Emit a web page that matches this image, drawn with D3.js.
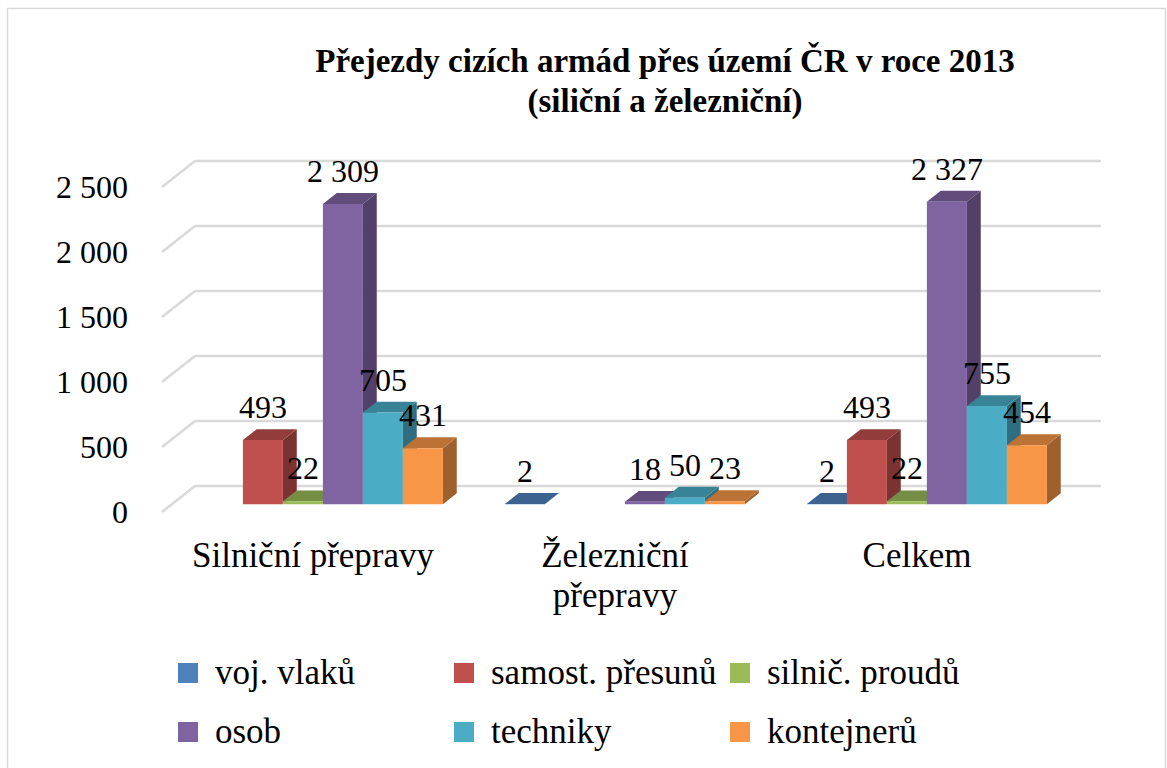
<!DOCTYPE html>
<html>
<head>
<meta charset="utf-8">
<script src="https://cdn.jsdelivr.net/npm/d3@7"></script>
<style>
  body { margin: 0; background: #fff; }
  text { font-family: "Liberation Serif", "DejaVu Serif", serif; fill: #000; }
</style>
</head>
<body>
<div id="chart"></div>
<script>
var categories = ["Silniční přepravy", "Železniční přepravy", "Celkem"];
var seriesNames = ["voj. vlaků", "samost. přesunů", "silnič. proudů", "osob", "techniky", "kontejnerů"];
var seriesColors = ["#4f81bd", "#c0504d", "#9bbb59", "#8064a2", "#4bacc6", "#f79646"];
// values per series, in the order of categories (null = no value)
var vojVlaku    = [null, 2, 2];
var samostPresunu = [493, null, 493];
var silnicProudu = [22, null, 22];
var osob        = [2309, 18, 2327];
var techniky    = [705, 50, 755];
var kontejneru  = [431, 23, 454];
var yTicks = [0, 500, 1000, 1500, 2000, 2500];

var seriesValues = [vojVlaku, samostPresunu, silnicProudu, osob, techniky, kontejneru];

var width = 1167, height = 768;
var DX = 33, DY = 26;          // depth of the 3D floor
var d0 = 0.3, d1 = 0.72;       // bar depth inside the floor

var svg = d3.select('#chart').append('svg')
    .attr('width', width)
    .attr('height', height);

svg.append('rect')
    .attr('x', 7.5).attr('y', 8.5)
    .attr('width', 1158).attr('height', 800)
    .attr('fill', 'none')
    .attr('stroke', '#d9d9d9')
    .attr('stroke-width', 1.5);

svg.append('text')
    .attr('x', 665).attr('y', 72)
    .attr('text-anchor', 'middle')
    .style('font-size', '33px').style('font-weight', 'bold')
    .text('Přejezdy cizích armád přes území ČR v roce 2013');
svg.append('text')
    .attr('x', 665).attr('y', 112)
    .attr('text-anchor', 'middle')
    .style('font-size', '33px').style('font-weight', 'bold')
    .text('(siliční a železniční)');

var x0 = d3.scaleBand().domain(categories).range([162, 1068]).padding(0);
var x1 = d3.scaleBand().domain(d3.range(seriesNames.length))
    .range([0, x0.bandwidth()]).paddingInner(0).paddingOuter(0.775);
var y = d3.scaleLinear().domain([0, 2500]).range([512, 187]);

var locale = d3.formatLocale({ decimal: ",", thousands: "\u00a0", grouping: [3], currency: ["", ""] });
var fmt = locale.format(",d");

function P(x, v, d) { return [x + d * DX, y(v) - d * DY]; }

// gridlines: back wall and left side wall
var grid = svg.append('g').attr('class', 'grid');
yTicks.forEach(function(t) {
    var a = P(x0.range()[0], t, 1), b = P(x0.range()[1], t, 1), c = P(x0.range()[0], t, 0);
    grid.append('line')
        .attr('x1', a[0]).attr('y1', a[1]).attr('x2', b[0]).attr('y2', b[1])
        .attr('stroke', '#d9d9d9').attr('stroke-width', 2.5);
    grid.append('line')
        .attr('x1', c[0]).attr('y1', c[1]).attr('x2', a[0]).attr('y2', a[1])
        .attr('stroke', '#d9d9d9').attr('stroke-width', 2.5);
});

// y axis labels
svg.append('g').selectAll('text')
    .data(yTicks)
    .enter().append('text')
    .attr('x', 128)
    .attr('y', function(d) { return y(d); })
    .attr('dy', '0.35em')
    .attr('text-anchor', 'end')
    .style('font-size', '32px')
    .text(function(d) { return fmt(d); });

// bars
var bars = [];
categories.forEach(function(cat, ci) {
    seriesValues.forEach(function(vals, si) {
        if (vals[ci] == null) return;
        bars.push({ cat: cat, s: si, v: vals[ci] });
    });
});

function shade(c, k) {
    var r = d3.rgb(c);
    return d3.rgb(r.r * k, r.g * k, r.b * k).toString();
}
function pts(arr) { return arr.map(function(p) { return p.join(','); }).join(' '); }

var barG = svg.append('g').selectAll('g')
    .data(bars)
    .enter().append('g');

barG.append('polygon')
    .attr('points', function(d) {
        var xr = x0(d.cat) + x1(d.s) + x1.bandwidth();
        return pts([P(xr, 0, d0), P(xr, d.v, d0), P(xr, d.v, d1), P(xr, 0, d1)]);
    })
    .attr('fill', function(d) { return shade(seriesColors[d.s], 0.64); });

barG.append('polygon')
    .attr('points', function(d) {
        var xl = x0(d.cat) + x1(d.s), xr = xl + x1.bandwidth();
        return pts([P(xl, d.v, d0), P(xr, d.v, d0), P(xr, d.v, d1), P(xl, d.v, d1)]);
    })
    .attr('fill', function(d) { return shade(seriesColors[d.s], 0.76); });

barG.append('polygon')
    .attr('points', function(d) {
        var xl = x0(d.cat) + x1(d.s), xr = xl + x1.bandwidth();
        return pts([P(xl, 0, d0), P(xr, 0, d0), P(xr, d.v, d0), P(xl, d.v, d0)]);
    })
    .attr('fill', function(d) { return seriesColors[d.s]; });

// data labels
svg.append('g').selectAll('text')
    .data(bars)
    .enter().append('text')
    .attr('x', function(d) { return x0(d.cat) + x1(d.s) + x1.bandwidth() / 2 + d0 * DX; })
    .attr('y', function(d) { return y(d.v) - d1 * DY - 11; })
    .attr('text-anchor', 'middle')
    .style('font-size', '32px')
    .text(function(d) { return fmt(d.v); });

// category labels (wrapped when too wide)
var catG = svg.append('g').selectAll('text')
    .data(categories)
    .enter().append('text')
    .attr('x', function(d) { return x0(d) + x0.bandwidth() / 2; })
    .attr('y', 567)
    .attr('text-anchor', 'middle')
    .style('font-size', '35px')
    .text(function(d) { return d; });

catG.each(function(d) {
    var t = d3.select(this);
    if (this.getComputedTextLength() > 260) {
        var words = d.split(' ');
        var cx = t.attr('x');
        t.text(null);
        words.forEach(function(w, i) {
            t.append('tspan').attr('x', cx).attr('dy', i ? 40 : 0).text(w);
        });
    }
});

// legend
var legCols = [178, 454, 730];
var legRows = [673, 732];
var leg = svg.append('g').selectAll('g')
    .data(seriesNames)
    .enter().append('g')
    .attr('transform', function(d, i) {
        return 'translate(' + legCols[i % 3] + ',' + legRows[Math.floor(i / 3)] + ')';
    });
leg.append('rect')
    .attr('x', 0).attr('y', -10)
    .attr('width', 20).attr('height', 20)
    .attr('fill', function(d, i) { return seriesColors[i]; });
leg.append('text')
    .attr('x', 37).attr('dy', '0.3em')
    .style('font-size', '35px')
    .text(function(d) { return d; });
</script>
</body>
</html>
